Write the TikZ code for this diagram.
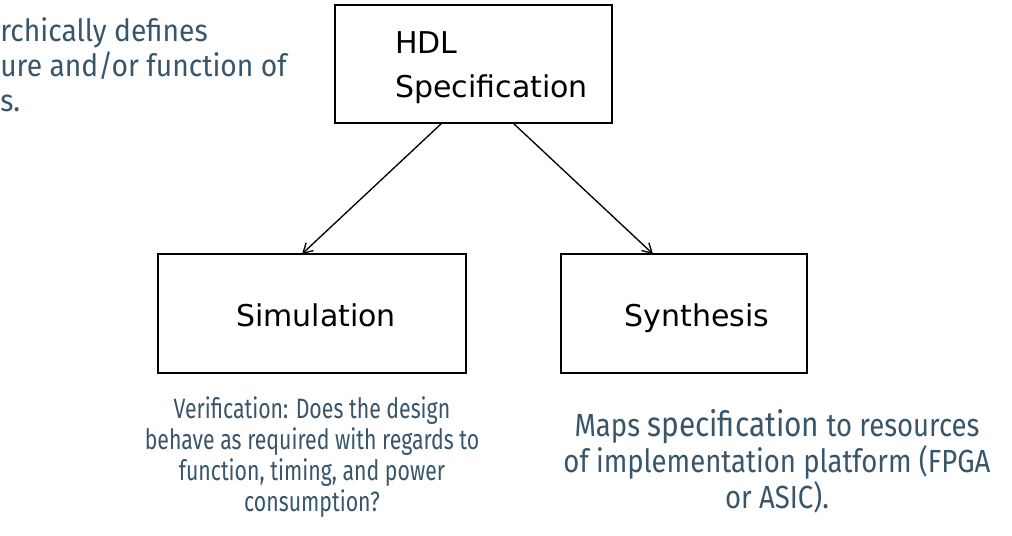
\documentclass[tikz,border=0pt]{standalone}
\usepackage{fontspec}
\setmainfont{Fira Sans}
\newfontfamily\boxfont{DejaVu Sans}
\newfontfamily\verfont[FakeStretch=0.76]{Fira Sans}
\newfontfamily\mapfont[FakeStretch=0.86]{Fira Sans}
\newfontfamily\tlfont[FakeStretch=0.92]{Fira Sans}
\usetikzlibrary{arrows.meta}
\definecolor{captc}{RGB}{55,86,107}
\begin{document}
\begin{tikzpicture}[x=0.75pt,y=-0.75pt,
  blk/.style={draw=black, line width=2pt},
  lbl/.style={font=\boxfont\fontsize{22.5}{27}\selectfont, inner sep=0pt},
  capt/.style={text=captc, align=center, inner sep=0pt},
  conn/.style={line width=1pt, -{Straight Barb[length=7pt,width=8pt]}}]
\useasboundingbox (0,0) rectangle (1012,535);
\draw[blk] (335,5) rectangle (612,123);
\coordinate (hdlA) at (442,123);
\coordinate (hdlB) at (513,123);
\node[lbl, anchor=base west] (hdl) at (395,54) {HDL};
\node[lbl, anchor=base west] (spec) at (395,97) {Specification};
\draw[blk] (158,254) rectangle (466,373);
\coordinate (simT) at (302,254);
\node[lbl, anchor=base] (sim) at (316,326) {Simulation};
\draw[blk] (561,254) rectangle (807,373);
\coordinate (synT) at (653,254);
\node[lbl, anchor=base] (syn) at (697,326) {Synthesis};
\draw[conn] (hdlA) -- (simT);
\draw[conn] (hdlB) -- (synT);
\node[capt, font=\tlfont\fontsize{23}{26.25}\selectfont, align=left, anchor=base west] (topleft) at (0,111) {rchically defines\\ure and/or function of\\s.};
\node[capt, font=\verfont\fontsize{21}{23.25}\selectfont, anchor=base] (vercap) at (312,511) {Verification: Does the design\\behave as required with regards to\\function, timing, and power\\consumption?};
\node[capt, font=\mapfont\fontsize{24}{27}\selectfont, anchor=base] (mapcap) at (777,508) {Maps {\fontsize{26}{27}\selectfont specification} to resources\\of implementation platform (FPGA\\or ASIC).};
\end{tikzpicture}
\end{document}
